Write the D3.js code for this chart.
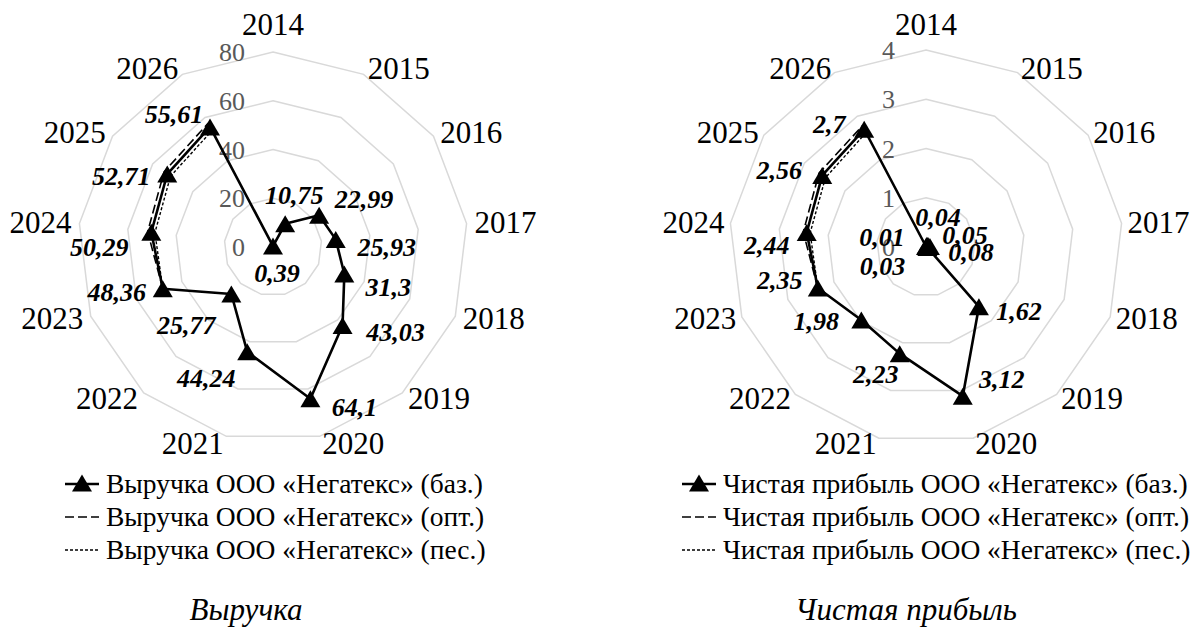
<!DOCTYPE html>
<html><head><meta charset="utf-8">
<script src="https://cdn.jsdelivr.net/npm/d3@7"></script>
<style>body{margin:0;background:#fff}svg{display:block}text{font-family:"Liberation Serif","Times New Roman",serif}</style>
</head><body>
<svg id="c" width="1203" height="627" font-family="Liberation Serif, Times New Roman, serif"></svg>
<script>
const categories = ["2014","2015","2016","2017","2018","2019","2020","2021","2022","2023","2024","2025","2026"];
const revenueBase = [0.39,10.75,22.99,25.93,31.3,43.03,64.1,44.24,25.77,48.36,50.29,52.71,55.61];
const revenueOpt  = [null,null,null,null,null,null,null,null,null,48.36,51.8,54.3,57.3];
const revenuePes  = [null,null,null,null,null,null,null,null,null,48.36,48.8,51.1,53.9];
const revenueTicks = [0,20,40,60,80];
const profitBase = [0.01,0.04,0.05,0.08,0.03,1.62,3.12,2.23,1.98,2.35,2.44,2.56,2.7];
const profitOpt  = [null,null,null,null,null,null,null,null,null,2.35,2.51,2.64,2.78];
const profitPes  = [null,null,null,null,null,null,null,null,null,2.35,2.37,2.48,2.62];
const profitTicks = [0,1,2,3,4];
const revenueLegend = ["Выручка ООО «Негатекс» (баз.)","Выручка ООО «Негатекс» (опт.)","Выручка ООО «Негатекс» (пес.)"];
const profitLegend = ["Чистая прибыль ООО «Негатекс» (баз.)","Чистая прибыль ООО «Негатекс» (опт.)","Чистая прибыль ООО «Негатекс» (пес.)"];
const titles = ["Выручка","Чистая прибыль"];

// layout: offsets (px) of data labels from their points
const revLabelOff = [[4,27],[9,-29],[45,-16],[51,8],[44,13],[53,6],[44,8],[-41,26],[-45,31],[-46,3],[-52,15],[-46,2],[-36,-13]];
const profLabelOff = [[-44,-10],[11,-28],[37,-11],[41,5],[-45,18],[40,4],[39,-17],[-24,20],[-45,1],[-38,-8],[-40,12],[-43,-5],[-35,-5]];

const svg = d3.select("#c");
svg.append("rect").attr("width",1203).attr("height",627).attr("fill","#fff");

function radar(o){
  const g = svg.append("g").attr("transform",`translate(${o.cx},${o.cy})`);
  const r = d3.scaleLinear().domain([0,o.ticks[o.ticks.length-1]]).range([0,o.R]);
  const step = 2*Math.PI/categories.length;
  const a = i => i*step;
  const pt = (i,v) => [r(v)*Math.sin(a(i)), -r(v)*Math.cos(a(i))];
  o.ticks.filter(t=>t>0).forEach(t=>{
    g.append("path").attr("d", d3.line()(categories.map((c,i)=>pt(i,t)))+"Z")
      .attr("fill","none").attr("stroke","#d9d9d9").attr("stroke-width",1.5);
  });
  g.selectAll(".tk").data(o.ticks).join("text")
    .attr("x",-o.tickOff).attr("y",d=>-r(d)+9).attr("text-anchor","end")
    .attr("font-size",26).attr("fill","#595959").text(d=>d);
  const RL = 202;
  categories.forEach((c,i)=>{
    const s=Math.sin(a(i)), co=Math.cos(a(i));
    const x=RL*s, y=-RL*co;
    const t=g.append("text").attr("font-size",31).attr("fill","#000").text(c);
    if(Math.abs(s)<0.1){ t.attr("x",x).attr("y",y-10).attr("text-anchor","middle"); }
    else { t.attr("x",x+(s>0?1:-1)).attr("y",y+10.5).attr("text-anchor",s>0?"start":"end"); }
  });
  const line = d3.line().defined(d=>d[2]!=null).x(d=>d[0]).y(d=>d[1]);
  const mk = arr => arr.map((v,i)=> v==null?[0,0,null]:[...pt(i,v),v]);
  g.append("path").attr("d",line(mk(o.opt))).attr("fill","none").attr("stroke","#000").attr("stroke-width",1.6).attr("stroke-dasharray","9,4");
  g.append("path").attr("d",line(mk(o.pes))).attr("fill","none").attr("stroke","#000").attr("stroke-width",1.4).attr("stroke-dasharray","3,2");
  const base = mk(o.base);
  g.append("path").attr("d",line(base)+"Z").attr("fill","none").attr("stroke","#000").attr("stroke-width",2.6).attr("stroke-linejoin","round");
  const tri = "M0,-9.5L10,7.5L-10,7.5Z";
  g.selectAll(".m").data(base).join("path").attr("d",tri).attr("fill","#000")
    .attr("transform",d=>`translate(${d[0]},${d[1]+1})`);
  g.selectAll(".dl").data(o.base).join("text")
    .attr("x",(d,i)=>pt(i,d)[0]+o.off[i][0]).attr("y",(d,i)=>pt(i,d)[1]+o.off[i][1]+9)
    .attr("text-anchor","middle").attr("font-size",26).attr("font-weight","bold").attr("font-style","italic")
    .text(d=>String(d).replace(".",","));
  const L = svg.append("g");
  const dashes=[null,"9,4","3,2"], widths=[2.6,1.6,1.4];
  o.legend.forEach((txt,k)=>{
    const y=o.legY+k*33;
    L.append("line").attr("x1",o.legX).attr("x2",o.legX+34).attr("y1",y-9).attr("y2",y-9)
      .attr("stroke","#000").attr("stroke-width",widths[k]).attr("stroke-dasharray",dashes[k]);
    if(k===0) L.append("path").attr("d",tri).attr("transform",`translate(${o.legX+17},${y-9})`).attr("fill","#000");
    L.append("text").attr("x",o.legX+41).attr("y",y).attr("font-size",27.5).text(txt);
  });
  svg.append("text").attr("x",o.titleX).attr("y",620).attr("text-anchor","middle")
    .attr("font-size",31).attr("font-style","italic").text(o.title);
}

radar({cx:273,cy:247,R:195,tickOff:28,ticks:revenueTicks,base:revenueBase,opt:revenueOpt,pes:revenuePes,off:revLabelOff,
  legend:revenueLegend,legX:65,legY:493,title:titles[0],titleX:246});
radar({cx:926,cy:247,R:197,tickOff:31,ticks:profitTicks,base:profitBase,opt:profitOpt,pes:profitPes,off:profLabelOff,
  legend:profitLegend,legX:682,legY:493,title:titles[1],titleX:906});
</script>
</body></html>
